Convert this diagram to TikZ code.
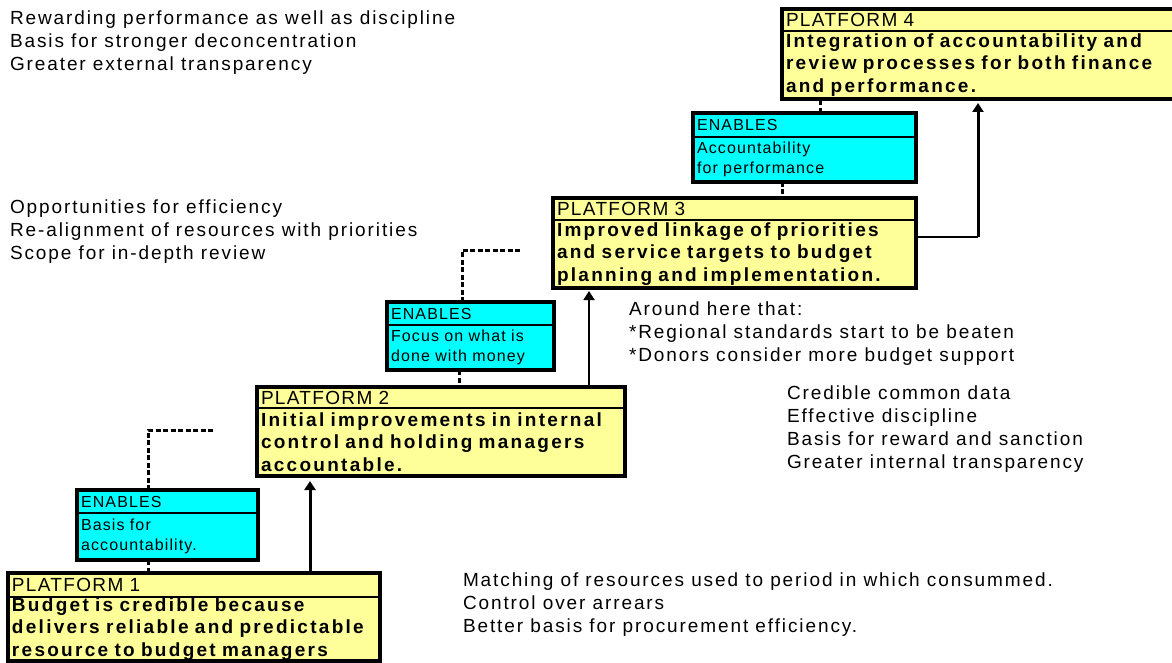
\documentclass[tikz,border=0pt]{standalone}
\usepackage{fontspec}
\setmainfont{Liberation Sans}
\newfontfamily\notefont[LetterSpace=10]{Liberation Sans}
\newfontfamily\headfont[LetterSpace=7]{Liberation Sans}
\newfontfamily\platfont[LetterSpace=12]{Liberation Sans}
\usetikzlibrary{arrows.meta}
\definecolor{platyellow}{HTML}{FFFF99}
\definecolor{enabcyan}{HTML}{00FFFF}

\begin{document}
\begin{tikzpicture}
[x=1pt,y=-1pt,%
  every node/.style={inner sep=0pt,outer sep=0pt},%
  note/.style={align=left,anchor=west,font=\fontsize{19}{23}\selectfont\notefont},%
  plathead/.style={draw,line width=2.5pt,fill=platyellow,anchor=north west,inner xsep=4pt,align=left,font=\fontsize{19}{22}\selectfont\headfont},%
  platbody/.style={plathead,font=\fontsize{19}{22.5}\selectfont\platfont\bfseries},%
  enabhead/.style={draw,line width=2.5pt,fill=enabcyan,anchor=north west,inner xsep=4pt,align=left,font=\fontsize{16}{20}\selectfont\headfont},%
  frame/.style={line width=4pt},%
  enablink/.style={line width=3pt,dash pattern=on 5pt off 2.5pt},%
  uparrow/.style={line width=3pt,-{Triangle[length=9pt,width=11pt]}},%
  thinarrow/.style={line width=1.8pt,-{Triangle[length=9pt,width=11pt]}}]
\useasboundingbox (0,0) rectangle (1172,663);

% platforms
\node[plathead,text width=364pt,minimum height=24pt] (p1head) at (8,573) {PLATFORM 1};
\node[platbody,text width=364pt,minimum height=64pt] (p1body) at (p1head.south west)
  {Budget is credible because\\delivers reliable and predictable\\resource to budget managers};
\node[plathead,text width=360pt,minimum height=21pt] (p2head) at (257,387) {PLATFORM 2};
\node[platbody,text width=360pt,minimum height=68pt] (p2body) at (p2head.south west)
  {Initial improvements in internal\\control and holding managers\\accountable.};
\node[plathead,text width=355pt,minimum height=22pt] (p3head) at (553,198) {PLATFORM 3};
\node[platbody,text width=355pt,minimum height=68pt] (p3body) at (p3head.south west)
  {Improved linkage of priorities\\and service targets to budget\\planning and implementation.};
\node[plathead,text width=394pt,minimum height=22pt] (p4head) at (782,9) {PLATFORM 4};
\node[platbody,text width=394pt,minimum height=68pt] (p4body) at (p4head.south west)
  {Integration of accountability and\\review processes for both finance\\and performance.};

% enablers
\node[enabhead,text width=173pt,minimum height=23pt] (e1head) at (77,490) {ENABLES};
\node[enabhead,text width=173pt,minimum height=47pt] (e1body) at (e1head.south west)
  {Basis for\\accountability.};
\node[enabhead,text width=159pt,minimum height=23pt] (e2head) at (387,302) {ENABLES};
\node[enabhead,text width=159pt,minimum height=45pt] (e2body) at (e2head.south west)
  {Focus on what is\\done with money};
\node[enabhead,text width=215pt,minimum height=24pt] (e3head) at (693,113) {ENABLES};
\node[enabhead,text width=215pt,minimum height=45pt] (e3body) at (e3head.south west)
  {Accountability\\for performance};

% outer frames
\foreach \blk in {p1,p2,p3,p4,e1,e2,e3}
  \draw[frame] (\blk head.north west) rectangle (\blk body.south east);

% links
\coordinate (e1tip) at (215,430);
\coordinate (e2tip) at (522,250);
\coordinate (bend) at (978,237);
\draw[enablink] ([xshift=71pt]e1head.north west) |- (e1tip);
\draw[enablink] ([xshift=71pt]e1body.south west) -- ([xshift=71pt]e1body.south west |- p1head.north);
\draw[enablink] ([xshift=75pt]e2head.north west) |- (e2tip);
\draw[enablink] ([xshift=72pt]e2body.south west) -- ([xshift=72pt]e2body.south west |- p2head.north);
\draw[enablink] ([xshift=89pt]e3body.south west) -- ([xshift=89pt]e3body.south west |- p3head.north);
\draw[enablink] ([xshift=127pt]e3head.north west) -- ([xshift=127pt]e3head.north west |- p4body.south);
\draw[uparrow,shorten >=5pt] ([xshift=302pt]p1head.north west) -- ([xshift=302pt]p1head.north west |- p2body.south);
\draw[thinarrow,shorten >=3pt] ([xshift=332pt]p2head.north west) -- ([xshift=332pt]p2head.north west |- p3body.south);
\draw[line width=1.5pt] (bend -| p3body.east) -- (bend);
\draw[uparrow,shorten >=4pt] (bend) -- (bend |- p4body.south);

% notes
\node[note] (gains4) at (10,42.5) {Rewarding performance as well as discipline\\Basis for stronger deconcentration\\Greater external transparency};
\node[note] (gains3) at (10,231.5) {Opportunities for efficiency\\Re-alignment of resources with priorities\\Scope for in-depth review};
\node[note] (around) at (629,333.5) {Around here that:\\*Regional standards start to be beaten\\*Donors consider more budget support};
\node[note] (gains2) at (787,428.75) {Credible common data\\Effective discipline\\Basis for reward and sanction\\Greater internal transparency};
\node[note] (gains1) at (463,605) {Matching of resources used to period in which consummed.\\Control over arrears\\Better basis for procurement efficiency.};
\end{tikzpicture}
\end{document}
